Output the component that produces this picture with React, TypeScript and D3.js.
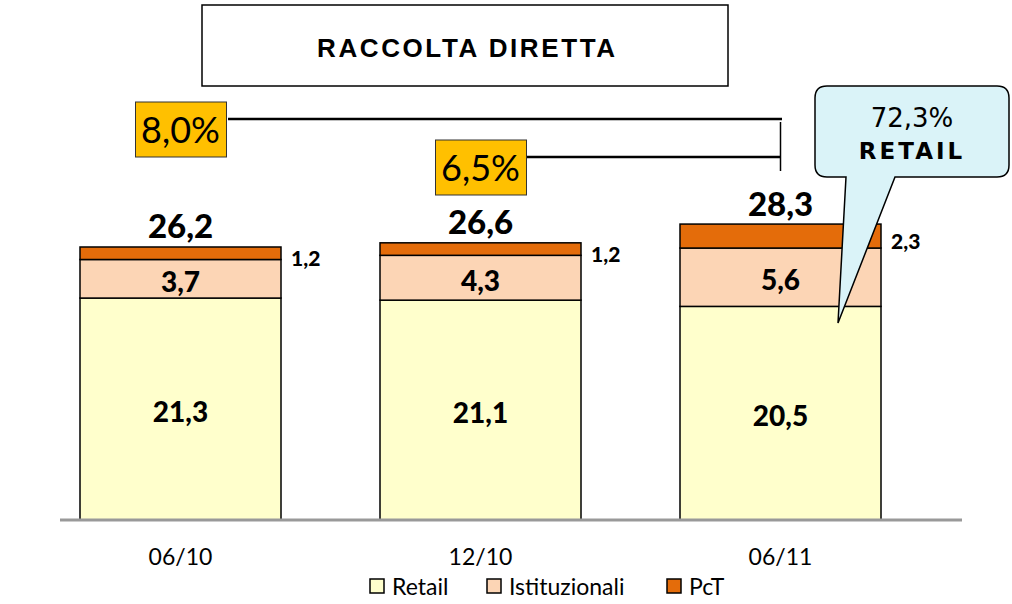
import React from "react";
import * as d3 from "d3";

const categories = ["06/10", "12/10", "06/11"];
const retail = [21.3, 21.1, 20.5];
const istituzionali = [3.7, 4.3, 5.6];
const pct = [1.2, 1.2, 2.3];
const totals = [26.2, 26.6, 28.3];
const growthLabels = ["8,0%", "6,5%"];
const seriesNames = ["Retail", "Istituzionali", "PcT"];
const colors = ["#FFFFCC", "#FCD5B5", "#E46C0A"];
const calloutLine1 = "72,3%";
const calloutLine2 = "RETAIL";
const title = "RACCOLTA DIRETTA";

const fmt = (v: number) => v.toFixed(1).replace(".", ",");

export default function App() {
  const W = 1012, H = 604;
  const x = d3.scaleBand<string>().domain(categories).range([30.5, 930.5]).paddingInner(0.33).paddingOuter(0.165);
  const y = d3.scaleLinear().domain([0, 30]).range([520, 207.4]);
  const bw = x.bandwidth();
  const series = [retail, istituzionali, pct];
  const lab = "Lato, 'Open Sans', sans-serif";

  const cx = (i: number) => (x(categories[i]) as number) + bw / 2;
  const vx = cx(2);

  return (
    <svg width={W} height={H} style={{ position: "absolute", left: 0, top: 0 }}>
      <rect x={0} y={0} width={W} height={H} fill="#fff" />
      {/* title box */}
      <rect x={202} y={5} width={526} height={81} fill="#fff" stroke="#000" strokeWidth={1.5} />
      <text x={317} y={57} textLength={298} lengthAdjust="spacing" fontFamily="'Liberation Sans', Arial, sans-serif" fontWeight="bold" fontSize={26}>{title}</text>

      {/* bars */}
      {categories.map((c, i) => {
        let base = 0;
        return (
          <g key={c}>
            {series.map((s, k) => {
              const y0 = y(base), y1 = y(base + s[i]);
              base += s[i];
              return <rect key={k} x={x(c)} y={y1} width={bw} height={y0 - y1} fill={colors[k]} stroke="#000" strokeWidth={1.5} />;
            })}
          </g>
        );
      })}

      {/* axis */}
      <line x1={60} x2={962} y1={520} y2={520} stroke="#999" strokeWidth={3} />

      {/* segment labels */}
      {categories.map((c, i) => (
        <g key={"l" + c} fontFamily={lab} fontWeight="900" fill="#000">
          <text x={cx(i)} y={y(retail[i] / 2) + 13} textAnchor="middle" fontSize={28}>{fmt(retail[i])}</text>
          <text x={cx(i)} y={y(retail[i] + istituzionali[i] / 2) + 13} textAnchor="middle" fontSize={28}>{fmt(istituzionali[i])}</text>
          <text x={(x(c) as number) + bw + 10} y={y(retail[i] + istituzionali[i] + pct[i] / 2) + 13} fontSize={21}>{fmt(pct[i])}</text>
          <text x={cx(i)} y={y(totals[i]) - 9} textAnchor="middle" fontSize={33}>{fmt(totals[i])}</text>
          <text x={cx(i)} y={565} textAnchor="middle" fontSize={23} fontWeight="normal">{c}</text>
        </g>
      ))}

      {/* growth annotations */}
      <line x1={228} x2={782} y1={119} y2={119} stroke="#000" strokeWidth={2.5} />
      <line x1={522} x2={780} y1={157} y2={157} stroke="#000" strokeWidth={2.5} />
      <line x1={vx} x2={vx} y1={122} y2={171} stroke="#000" strokeWidth={1.5} />
      {[0, 1].map((i) => {
        const bx = cx(i);
        const by = i === 0 ? 102 : 140;
        return (
          <g key={"g" + i}>
            <rect x={bx - 45} y={by} width={91} height={55} fill="#FFC000" stroke="#333" strokeWidth={1} />
            <text x={bx} y={by + 41} textAnchor="middle" fontFamily={lab} fontSize={36}>{growthLabels[i]}</text>
          </g>
        );
      })}

      {/* callout */}
      <path
        d="M 827 86 L 997 86 Q 1009 86 1009 98 L 1009 165 Q 1009 177 997 177 L 895 177 L 838 323 L 846 177 L 827 177 Q 815 177 815 165 L 815 98 Q 815 86 827 86 Z"
        fill="#DAF3F8" stroke="#000" strokeWidth={1.5}
      />
      <text x={912} y={127} textAnchor="middle" fontFamily="'DejaVu Sans', Verdana, sans-serif" fontSize={26}>{calloutLine1}</text>
      <text x={912} y={159} textAnchor="middle" fontFamily="'DejaVu Sans', Verdana, sans-serif" fontWeight="bold" fontSize={23} letterSpacing={3}>{calloutLine2}</text>

      {/* legend */}
      {seriesNames.map((n, k) => {
        const lx = [370, 487, 667][k];
        return (
          <g key={n}>
            <rect x={lx} y={579} width={14} height={14} fill={colors[k]} stroke="#000" strokeWidth={1.5} />
            <text x={lx + 22} y={595} fontFamily={lab} fontSize={23}>{n}</text>
          </g>
        );
      })}
    </svg>
  );
}
